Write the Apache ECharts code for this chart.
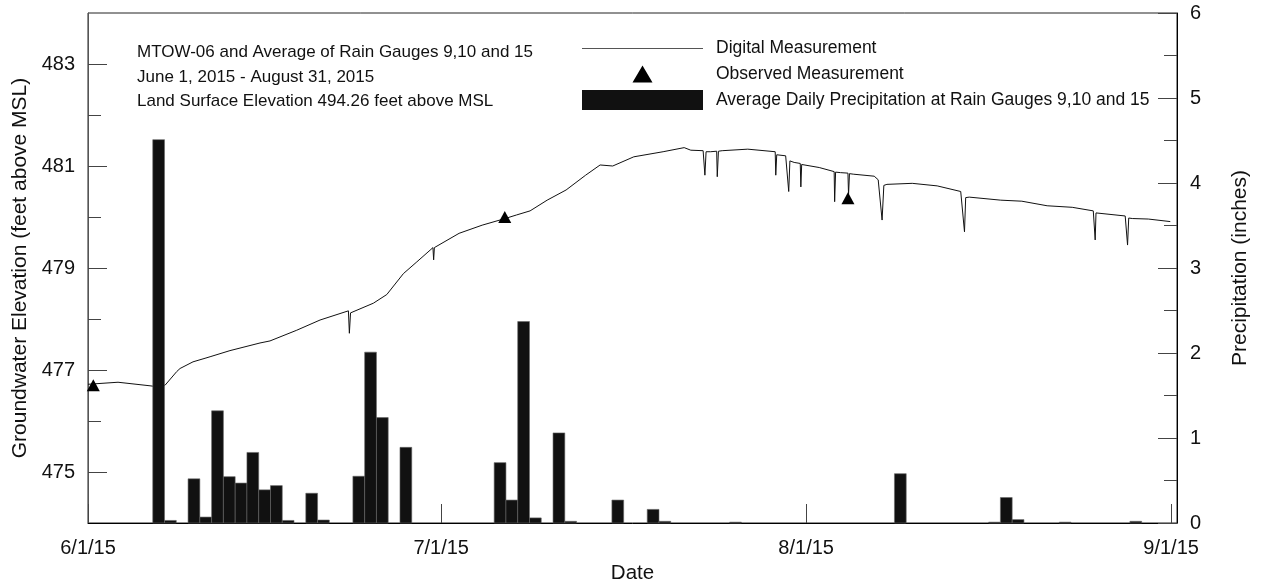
<!DOCTYPE html>
<html><head><meta charset="utf-8">
<script src="https://cdn.jsdelivr.net/npm/echarts@6/dist/echarts.min.js"></script>
<style>html,body{margin:0;padding:0;background:#fff}#c{width:1261px;height:584px}</style>
</head><body><div id="c"></div>
<script>
// ---- data (days counted from 6/1/2015 00:00) ----
const xTickDays = [0, 30, 61, 92];
const xTickLabels = ['6/1/15', '7/1/15', '8/1/15', '9/1/15'];
const leftMajorTicks = [475, 477, 479, 481, 483];
const leftMinorTicks = [476, 478, 480, 482];

const precipDay    = [6, 7, 9, 10, 11, 12, 13, 14, 15, 16, 17, 19, 20, 23, 24, 25, 27, 35, 36, 37, 38, 40, 41, 45, 48, 49, 55, 69, 77, 78, 79, 83, 89];
const precipInches = [4.51, 0.03, 0.52, 0.07, 1.32, 0.545, 0.47, 0.83, 0.39, 0.44, 0.03, 0.35, 0.035, 0.55, 2.01, 1.24, 0.89, 0.71, 0.27, 2.37, 0.06, 1.06, 0.02, 0.27, 0.16, 0.02, 0.01, 0.58, 0.01, 0.30, 0.04, 0.01, 0.02];

const gwDay  = [0, 2.55, 5.27, 5.95, 6.54, 6.69, 7.54, 7.82, 8.92, 9.94, 10.37, 12.06, 14.61, 15.46, 17.73, 19.71, 22.12, 22.2, 22.3, 24.24, 25.38, 26.79, 27.93, 29.06, 29.3, 29.36, 29.42, 31.52, 33.48, 35.43, 36.4, 37.55, 39.0, 40.61, 42.27, 43.5, 44.57, 46.36, 48.85, 50.64, 51.2, 52.25, 52.4, 52.5, 52.89, 53.4, 53.45, 53.55, 53.87, 56.04, 58.37, 58.42, 58.5, 59.26, 59.52, 59.62, 59.98, 60.5, 60.55, 60.62, 62.11, 63.38, 63.42, 63.5, 63.92, 64.55, 64.6, 64.68, 65.0, 66.78, 67.12, 67.45, 67.6, 67.86, 70.01, 72.13, 74.13, 74.45, 74.55, 74.85, 77.53, 79.32, 81.47, 83.6, 85.39, 85.55, 85.62, 85.77, 88.1, 88.3, 88.4, 88.7, 90.06, 91.93];
const gwElev = [476.72, 476.76, 476.69, 476.67, 476.70, 476.72, 476.97, 477.03, 477.16, 477.23, 477.26, 477.38, 477.53, 477.57, 477.78, 477.98, 478.16, 477.72, 478.12, 478.31, 478.48, 478.89, 479.12, 479.35, 479.40, 479.16, 479.40, 479.68, 479.84, 479.97, 480.04, 480.12, 480.33, 480.53, 480.82, 481.02, 481.00, 481.18, 481.28, 481.36, 481.31, 481.30, 480.82, 481.28, 481.28, 481.29, 480.79, 481.29, 481.30, 481.33, 481.28, 480.82, 481.22, 481.20, 480.50, 481.10, 481.07, 481.05, 480.59, 481.03, 480.97, 480.89, 480.30, 480.88, 480.87, 480.86, 480.43, 480.85, 480.84, 480.80, 480.73, 479.94, 480.62, 480.64, 480.66, 480.61, 480.50, 479.71, 480.38, 480.39, 480.33, 480.31, 480.22, 480.19, 480.12, 479.55, 480.08, 480.08, 480.02, 479.45, 479.98, 479.97, 479.96, 479.91];

const obsDay  = [0.45, 35.4, 64.55];
const obsElev = [476.70, 480.00, 480.37];

const noteLines = [
  'MTOW-06 and Average of Rain Gauges 9,10 and 15',
  'June 1, 2015 - August 31, 2015',
  'Land Surface Elevation 494.26 feet above MSL'
];
const seriesNames = ['Digital Measurement', 'Observed Measurement', 'Average Daily Precipitation at Rain Gauges 9,10 and 15'];

// ---- chart ----
const FONT = 'Liberation Sans, Arial, sans-serif';
const chart = echarts.init(document.getElementById('c'), null, {renderer: 'canvas'});
const lineData = gwDay.map((d, i) => [d, gwElev[i]]);
const obsData = obsDay.map((d, i) => [d, obsElev[i]]);
const barData = precipDay.map((d, i) => [d, precipInches[i]]);

const legendText = {fontFamily: FONT, fontSize: 17.5, color: '#111', padding: [0, 0, 0, 8]};
// legend icons: invisible corner dots fix the icon box so the mark keeps its own size
const lineIcon = 'path://M0,0L0.01,0Z M0,9.5L121,9.5L121,10.5L0,10.5Z M120.99,20L121,20Z';
const triIcon  = 'path://M0,0L0.01,0Z M50.5,17L60.5,0L70.5,17Z M120.99,17L121,17Z';

const option = {
  animation: false,
  backgroundColor: '#fff',
  grid: {left: 88, right: 84, top: 13, bottom: 61, outerBoundsMode: 'none', containLabel: false,
    show: true, borderColor: '#222', borderWidth: 1, backgroundColor: 'transparent'},
  graphic: noteLines.map((t, i) => ({
    type: 'text', left: 137, top: 44 + i * 24.5, z: 10,
    style: {text: t, fontFamily: FONT, fontSize: 17, fill: '#111'}
  })),
  legend: [
    {data: [{name: seriesNames[0], icon: lineIcon, itemStyle: {color: '#555'}}], left: 582, top: 38.5, padding: 0, orient: 'vertical', itemWidth: 121, itemHeight: 20, selectedMode: false, textStyle: legendText},
    {data: [{name: seriesNames[1], icon: triIcon}], left: 582, top: 65, padding: 0, orient: 'vertical', itemWidth: 121, itemHeight: 17, selectedMode: false, textStyle: legendText},
    {data: [{name: seriesNames[2], icon: 'rect'}], left: 582, top: 90, padding: 0, orient: 'vertical', itemWidth: 121, itemHeight: 20, selectedMode: false, textStyle: legendText}
  ],
  xAxis: {
    type: 'value', min: 0, max: 92.5,
    name: 'Date', nameLocation: 'middle', nameGap: 40,
    nameTextStyle: {fontFamily: FONT, fontSize: 20.5, color: '#111'},
    axisLine: {show: true, lineStyle: {color: '#000', width: 1}},
    axisTick: {show: true, inside: true, length: 19, customValues: xTickDays, lineStyle: {color: '#444'}},
    axisLabel: {show: true, customValues: xTickDays, margin: 15, fontFamily: FONT, fontSize: 20, color: '#111',
      formatter: v => { const k = xTickDays.indexOf(Math.round(v)); return k >= 0 ? xTickLabels[k] : ''; }},
    splitLine: {show: false}
  },
  yAxis: [
    {
      type: 'value', min: 474, max: 484, position: 'left',
      name: 'Groundwater Elevation (feet above MSL)', nameLocation: 'middle', nameGap: 57,
      nameTextStyle: {fontFamily: FONT, fontSize: 21, color: '#111'},
      axisLine: {show: true, lineStyle: {color: '#555', width: 1}},
      axisTick: {show: true, inside: true, length: 19, customValues: leftMajorTicks, lineStyle: {color: '#444'}},
      axisLabel: {show: true, customValues: leftMajorTicks, margin: 13, fontFamily: FONT, fontSize: 20, color: '#111'},
      splitLine: {show: false}
    },
    {
      type: 'value', min: 474, max: 484, position: 'left',
      axisLine: {show: false},
      axisTick: {show: true, inside: true, length: 13, customValues: leftMinorTicks, lineStyle: {color: '#444'}},
      axisLabel: {show: false},
      splitLine: {show: false}
    },
    {
      type: 'value', min: 0, max: 6, interval: 1, position: 'right',
      name: 'Precipitation (inches)', nameLocation: 'middle', nameGap: 53,
      nameTextStyle: {fontFamily: FONT, fontSize: 21, color: '#111'},
      axisLine: {show: true, lineStyle: {color: '#000', width: 1}},
      axisTick: {show: true, inside: true, length: 19, lineStyle: {color: '#444'}},
      minorTick: {show: true, splitNumber: 2, length: 13, lineStyle: {color: '#444'}},
      axisLabel: {show: true, margin: 13, fontFamily: FONT, fontSize: 20, color: '#111'},
      splitLine: {show: false}
    }
  ],
  series: [
    {
      name: seriesNames[0], type: 'line', xAxisIndex: 0, yAxisIndex: 0, z: 2,
      data: lineData, showSymbol: false, symbol: 'none',
      lineStyle: {color: '#111', width: 1}, itemStyle: {color: '#555'}
    },
    {
      name: seriesNames[1], type: 'scatter', xAxisIndex: 0, yAxisIndex: 0, z: 5,
      data: obsData, symbol: 'triangle', symbolSize: [13, 12],
      itemStyle: {color: '#000', opacity: 1}
    },
    {
      name: seriesNames[2], type: 'custom', xAxisIndex: 0, yAxisIndex: 2, z: 3,
      data: barData, itemStyle: {color: '#111'},
      renderItem: function (params, api) {
        const d = api.value(0), v = api.value(1);
        const p0 = api.coord([d - 0.5, 0]);
        const p1 = api.coord([d + 0.5, v]);
        return {
          type: 'rect',
          shape: {x: p0[0], y: p1[1], width: p1[0] - p0[0], height: p0[1] - p1[1]},
          style: {fill: '#111', stroke: '#666', lineWidth: 0.6}
        };
      }
    }
  ]
};
chart.setOption(option);
</script>
</body></html>
